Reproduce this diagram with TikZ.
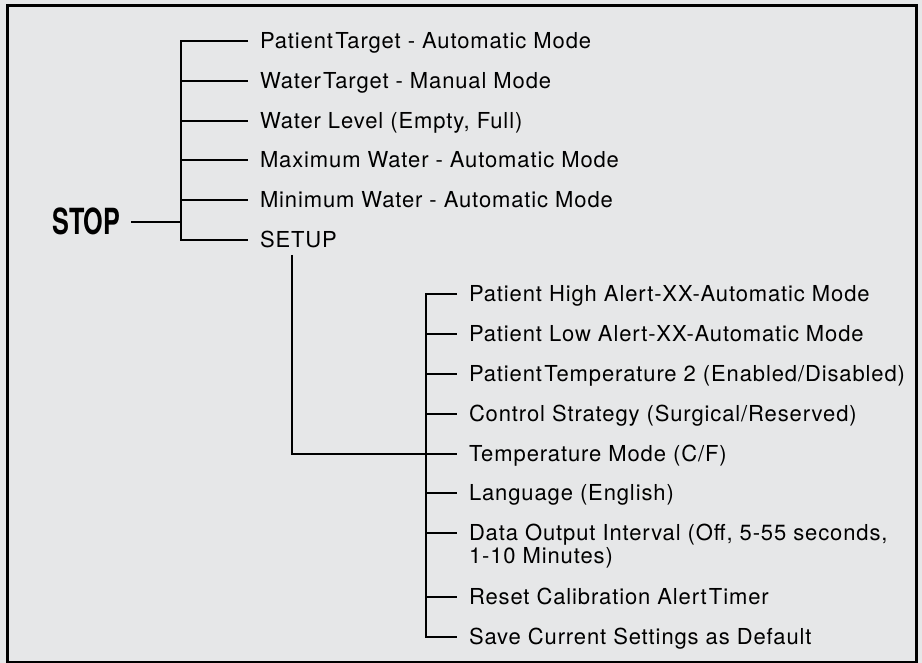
\documentclass[tikz,border=0pt]{standalone}
\usepackage{fontspec}
\setmainfont[LetterSpace=4]{TeX Gyre Heros}
\newfontfamily\stopfont[FakeStretch=0.7]{TeX Gyre Heros}
\usetikzlibrary{calc}
\definecolor{panel}{HTML}{E6E7E8}
\newcommand{\tsp}{\hspace{0.1em}}
\tikzset{
  item/.style={anchor=west, inner sep=0pt, outer xsep=9pt, text height=11.3pt, text depth=0pt,
    font=\fontsize{16.5}{17.3}\selectfont},
  branch/.style={line width=1.7pt},
}

\begin{document}
\begin{tikzpicture}[x=0.75pt, y=-0.75pt]
  \useasboundingbox (0,0) rectangle (922,663);
  \fill[panel] (0,0) rectangle (922,663);
  \draw[line width=1.7pt] (7.5,5.5) rectangle (916.5,662.5);

  % top level
  \node (stop) [anchor=east, inner sep=0pt, outer xsep=8pt, text height=19.4pt, text depth=0pt,
    font=\stopfont\bfseries\fontsize{27}{27}\selectfont] at (131,222) {STOP};
  \coordinate (trunkA) at (181,222);
  \node (pt)    [item] at (248,41)  {Patient\tsp Target - Automatic Mode};
  \node (wt)    [item] at (248,81)  {Water\tsp Target - Manual Mode};
  \node (wl)    [item] at (248,121) {Water Level (Empty, Full)};
  \node (maxw)  [item] at (248,160) {Maximum Water - Automatic Mode};
  \node (minw)  [item] at (248,200) {Minimum Water - Automatic Mode};
  \node (setup) [item] at (248,240) {SETUP};

  \draw[branch] (stop.east) -- (trunkA);
  \draw[branch] (pt.west) -| (trunkA |- setup.west) -- (setup.west);
  \foreach \n in {wt,wl,maxw,minw}
    \draw[branch] (trunkA |- \n.west) -- (\n.west);

  % setup menu
  \coordinate (setupfoot) at (292,255);
  \coordinate (trunkB) at (426,454);
  \node (phi)   [item] at (457,294) {Patient High Alert-XX-Automatic Mode};
  \node (plo)   [item] at (457,334) {Patient Low Alert-XX-Automatic Mode};
  \node (ptemp) [item] at (457,374) {Patient\tsp Temperature 2 (Enabled/Disabled)};
  \node (ctrl)  [item] at (457,414) {Control Strategy (Surgical/Reserved)};
  \node (tmode) [item] at (457,454) {Temperature Mode (C/F)};
  \node (lang)  [item] at (457,493) {Language (English)};
  \node (dout)  [item] at (457,533)
    {\vtop{\hbox{Data Output Interval (Off, 5-55 seconds,}\hbox{1-10 Minutes)}}};
  \node (reset) [item] at (457,597) {Reset Calibration Alert\tsp Timer};
  \node (save)  [item] at (457,637) {Save Current Settings as Default};

  \draw[branch] (setupfoot) |- (tmode.west);
  \draw[branch] (phi.west) -| (trunkB |- save.west) -- (save.west);
  \foreach \n in {plo,ptemp,ctrl,lang,dout,reset}
    \draw[branch] (trunkB |- \n.west) -- (\n.west);
\end{tikzpicture}
\end{document}
